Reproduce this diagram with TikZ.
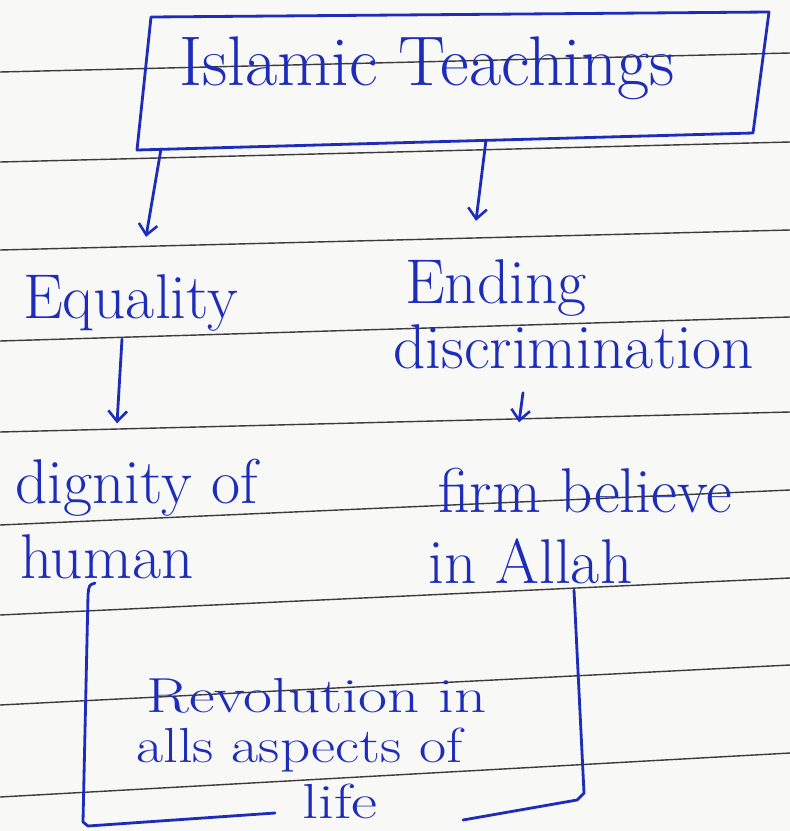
\documentclass[tikz,border=0pt]{standalone}
\usetikzlibrary{arrows.meta,calc}
\definecolor{ink}{RGB}{30,44,186}
\definecolor{ruleclr}{RGB}{60,60,60}
\definecolor{paper}{RGB}{248,248,246}
\tikzset{
  hand/.style={text=ink, inner sep=0pt, anchor=base west, font=\fontsize{54}{60}\selectfont},
  titlefont/.style={font=\fontsize{60}{66}\selectfont},
  smallhand/.style={font=\fontsize{42}{46}\selectfont},
  ruleline/.style={draw=ruleclr, line width=1.2pt},
  inkline/.style={draw=ink, line width=2.4pt, line cap=round, line join=round},
  inkarrow/.style={inkline, -{Straight Barb[length=9pt,width=16pt,line width=2.2pt]}},
}
\begin{document}
\begin{tikzpicture}[x=0.03cm, y=-0.03cm]
  % paper
  \fill[paper] (0,0) rectangle (790,831);
  \useasboundingbox (0,0) rectangle (790,831);
  % ruled lines
  \foreach \l/\r in {72/53, 162/142, 250/230, 341/317, 432/412, 525/490, 615/578, 705/665, 797/753}
    \draw[ruleline] (0,\l) -- (790,\r);

  % title box
  \coordinate (b1) at (151,17);
  \coordinate (b2) at (769,12);
  \coordinate (b3) at (753,133);
  \coordinate (b4) at (137,150);
  \draw[inkline] (b1) -- (b2) -- (b3) -- (b4) -- cycle;
  \coordinate (boxA) at (161,149);
  \coordinate (boxB) at (486,140);

  % texts
  \node[hand, titlefont] (title) at (179,85) {Islamic Teachings};
  \node[hand] (eq)   at (23,318)  {Equality};
  \node[hand] (end1) at (405,303) {Ending};
  \node[hand] (end2) at (393,368) {discrimination};
  \node[hand] (dig)  at (15,503)  {dignity of};
  \node[hand] (firm) at (438,512) {firm believe};
  \node[hand] (hum)  at (20,578)  {human};
  \node[hand] (inal) at (428,583) {in Allah};
  \node[hand, smallhand] (rev1) at (146,712) {\scalebox{1.28}[1]{Revolution in}};
  \node[hand, smallhand] (rev2) at (136,762) {\scalebox{1.2}[1]{alls aspects of}};
  \node[hand, smallhand] (rev3) at (302,818) {\scalebox{1.3}[1]{life}};

  % arrows
  \draw[inkarrow] (boxA) -- ($(eq.north west)+(123,-37)$);
  \draw[inkarrow] (boxB) -- ($(end1.north west)+(71,-38)$);
  \draw[inkarrow] ($(eq.south west)+(99,8)$) -- ($(dig.north west)+(102,-35)$);
  \draw[inkarrow] ($(end2.south west)+(130,24)$) -- ($(firm.north west)+(81,-45)$);

  % bracket round the result
  \draw[inkline] (95,583) .. controls (89,585) .. (88,595) -- (83,822) -- (88,826) -- (275,813);
  \draw[inkline] (574,590) -- (584,793) -- (577,800) -- (463,820);
\end{tikzpicture}
\end{document}
